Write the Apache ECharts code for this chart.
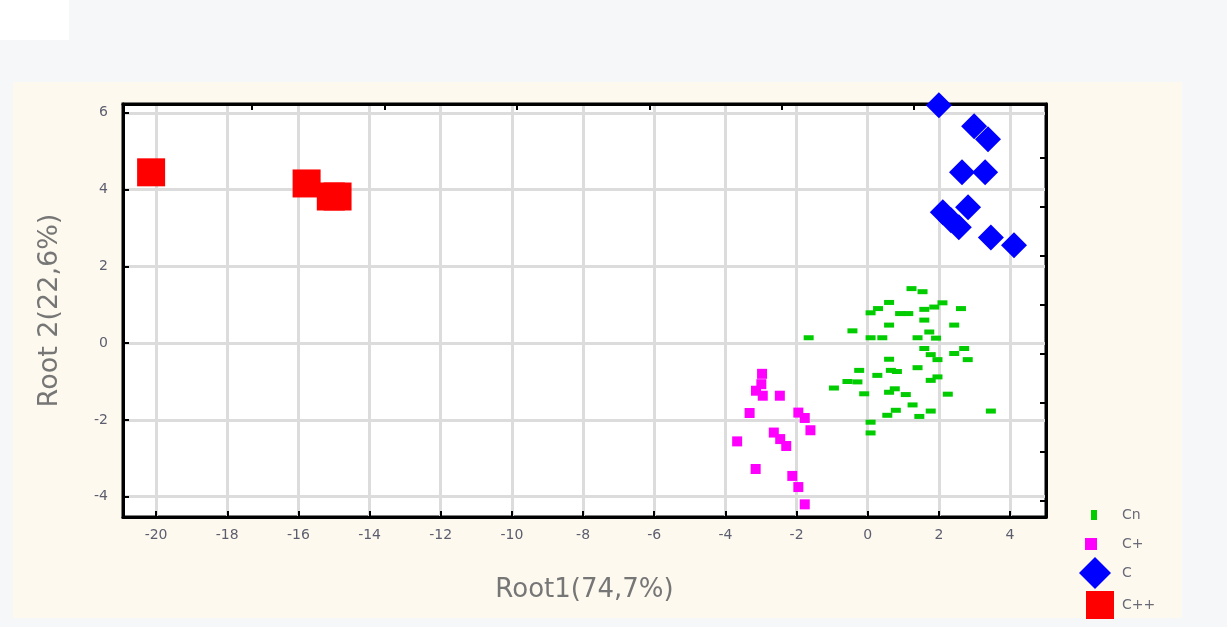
<!DOCTYPE html>
<html>
<head>
<meta charset="utf-8">
<script src="https://cdn.jsdelivr.net/npm/echarts@6/dist/echarts.min.js"></script>
<style>
  html, body { margin: 0; padding: 0; width: 1227px; height: 627px; background: #f6f7f9; overflow: hidden; }
  #corner { position: absolute; left: 0; top: 0; width: 69px; height: 40px; background: #ffffff; }
  #panel { position: absolute; left: 13px; top: 82px; width: 1169px; height: 536px; background: #fdf9ee; }
  #chart { position: absolute; left: 0; top: 0; width: 1227px; height: 627px; }
</style>
</head>
<body>
<div id="corner"></div>
<div id="panel"></div>
<div id="chart"></div>
<script>
// Discriminant scores: [Root1, Root2] per group
const groupNames = ['Cn', 'C+', 'C', 'C++'];

const scoresCn = [
  [1.23, 1.42], [1.54, 1.34], [0.60, 1.06], [0.08, 0.79], [0.29, 0.90],
  [0.91, 0.77], [1.14, 0.77], [1.59, 0.88], [1.87, 0.94], [2.10, 1.05],
  [2.62, 0.90], [1.59, 0.60], [0.60, 0.47], [2.43, 0.47], [-0.43, 0.32],
  [0.08, 0.14], [0.41, 0.14], [1.40, 0.14], [1.73, 0.29], [1.92, 0.13],
  [1.59, -0.14], [1.77, -0.30], [1.96, -0.43], [2.43, -0.27], [2.71, -0.14],
  [2.81, -0.43], [0.60, -0.42], [1.40, -0.64], [-0.24, -0.71], [0.27, -0.84],
  [0.65, -0.71], [0.82, -0.74], [-0.57, -1.00], [-0.29, -1.01], [-0.95, -1.17],
  [1.77, -0.97], [1.96, -0.88], [-0.10, -1.32], [0.60, -1.28], [0.76, -1.19],
  [1.07, -1.34], [2.25, -1.33], [1.26, -1.61], [0.55, -1.88], [0.79, -1.75],
  [1.45, -1.91], [1.77, -1.77], [3.46, -1.77], [0.08, -2.06], [0.08, -2.34],
  [-1.66, 0.14]
];

const scoresCPlus = [
  [-2.97, -0.80], [-2.99, -1.07], [-3.14, -1.24], [-2.95, -1.37], [-2.47, -1.37],
  [-3.32, -1.82], [-1.95, -1.81], [-1.77, -1.95], [-1.61, -2.27], [-2.64, -2.33],
  [-2.46, -2.50], [-2.29, -2.68], [-3.67, -2.56], [-3.15, -3.28], [-2.12, -3.46],
  [-1.95, -3.75], [-1.77, -4.20]
];

const scoresC = [
  [2.00, 6.20], [2.99, 5.65], [3.38, 5.31], [2.65, 4.45], [3.30, 4.45],
  [2.82, 3.54], [2.11, 3.41], [2.56, 3.02], [2.34, 3.20], [3.46, 2.75],
  [4.11, 2.55]
];

const scoresCPlusPlus = [
  [-20.14, 4.45], [-15.77, 4.16], [-15.09, 3.82], [-14.90, 3.82]
];

// labelled ticks on the bottom and left axes
const xTicks = [-20, -18, -16, -14, -12, -10, -8, -6, -4, -2, 0, 2, 4];
const yTicks = [-4, -2, 0, 2, 4, 6];
// unlabelled ticks on the top and right frame edges
const xTopTicks = [-17.30, -13.58, -9.86, -6.14, -2.42, 1.30];
const yRightTicks = [4.84, 3.56, 2.28, 1.00, -0.27, -1.55, -2.83, -4.11];

const FONT = 'DejaVu Sans, Verdana, sans-serif';
const labelFont = { color: '#5c5e70', fontSize: 14, fontFamily: FONT };
const titleFont = { color: '#767676', fontSize: 26, fontFamily: FONT };

const chart = echarts.init(document.getElementById('chart'), null, { renderer: 'canvas' });

function legendFor(name, left, top, w, h, pad) {
  return {
    data: [name],
    orient: 'vertical',
    left: left,
    top: top,
    itemWidth: w,
    itemHeight: h,
    itemGap: 0,
    padding: 0,
    textStyle: { color: '#6a6a78', fontSize: 14, fontFamily: FONT, padding: [0, 0, 0, pad] },
    selectedMode: false
  };
}

const frameTick = { show: true, inside: true, length: 6, lineStyle: { color: '#000', width: 2 } };

chart.setOption({
  backgroundColor: 'transparent',
  animation: false,
  grid: {
    left: 123, right: 181, top: 104, bottom: 110,
    show: true, backgroundColor: '#ffffff', borderColor: '#000000', borderWidth: 3
  },
  legend: [
    legendFor('Cn', 1091, 508, 6, 10, 20),
    legendFor('C+', 1085, 537, 12, 12, 20),
    legendFor('C', 1079, 557, 32, 32, 6),
    legendFor('C++', 1086, 591, 28, 28, 3)
  ],
  xAxis: [
    {
      type: 'value',
      min: -20.93, max: 5.01,
      name: 'Root1(74,7%)',
      nameLocation: 'middle',
      nameGap: 60,
      nameTextStyle: titleFont,
      axisLine: { show: true, onZero: false, lineStyle: { color: '#000', width: 3 } },
      axisTick: { ...frameTick, customValues: xTicks },
      axisLabel: { customValues: xTicks, margin: 11, ...labelFont },
      splitLine: { show: true, lineStyle: { color: '#dcdcdc', width: 3 } }
    },
    {
      type: 'value', position: 'top',
      min: -20.93, max: 5.01,
      axisLine: { show: true, onZero: false, lineStyle: { color: '#000', width: 3 } },
      axisTick: { ...frameTick, customValues: xTopTicks },
      axisLabel: { show: false },
      splitLine: { show: false }
    }
  ],
  yAxis: [
    {
      type: 'value',
      min: -4.53, max: 6.23,
      name: 'Root 2(22,6%)',
      nameLocation: 'middle',
      nameGap: 60,
      nameTextStyle: { ...titleFont, fontSize: 27 },
      axisLine: { show: true, onZero: false, lineStyle: { color: '#000', width: 3 } },
      axisTick: { ...frameTick, customValues: yTicks },
      axisLabel: { customValues: yTicks, margin: 15, ...labelFont },
      splitLine: { show: true, lineStyle: { color: '#dcdcdc', width: 3 } }
    },
    {
      type: 'value', position: 'right',
      min: -4.53, max: 6.23,
      axisLine: { show: true, onZero: false, lineStyle: { color: '#000', width: 3 } },
      axisTick: { ...frameTick, customValues: yRightTicks },
      axisLabel: { show: false },
      splitLine: { show: false }
    }
  ],
  series: [
    {
      name: groupNames[0], type: 'scatter', data: scoresCn,
      symbol: 'rect', symbolSize: [10, 5],
      itemStyle: { color: '#00cc00', opacity: 1 }, z: 3
    },
    {
      name: groupNames[1], type: 'scatter', data: scoresCPlus,
      symbol: 'rect', symbolSize: 10,
      itemStyle: { color: '#ff00ff', opacity: 1 }, z: 3
    },
    {
      name: groupNames[2], type: 'scatter', data: scoresC,
      symbol: 'diamond', symbolSize: [26, 26],
      itemStyle: { color: '#0000ff', opacity: 1 }, z: 3
    },
    {
      name: groupNames[3], type: 'scatter', data: scoresCPlusPlus,
      symbol: 'rect', symbolSize: 28,
      itemStyle: { color: '#ff0000', opacity: 1 }, z: 3
    }
  ]
});
</script>
</body>
</html>
